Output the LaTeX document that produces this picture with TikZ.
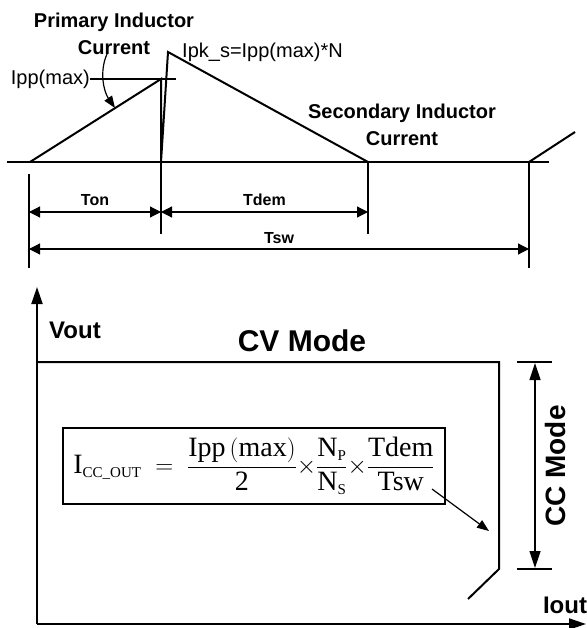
\documentclass[tikz,border=0pt]{standalone}
\usepackage{amsmath}
\usepackage{fontspec}
\setmainfont{Liberation Sans}
\newfontfamily\formulafont{Liberation Serif}
\usepackage{tikz}
\usetikzlibrary{positioning, arrows.meta, calc}

\newcommand{\smallsub}[1]{\text{\fontsize{15}{16}\selectfont #1}}

\begin{document}
\begin{tikzpicture}[x=1pt, y=-1pt, inner sep=0pt,
  wave/.style={line width=2pt},
  thinline/.style={line width=1.2pt},
  dimarrow/.style={line width=1.2pt, {Triangle[length=11pt,width=11pt]}-{Triangle[length=11pt,width=11pt]}},
  axisarrow/.style={line width=2pt, -{Triangle[length=17pt,width=11pt]}},
  lbl/.style={font=\fontsize{20}{27}\selectfont},
  boldlbl/.style={font=\fontsize{20}{27}\selectfont\bfseries, align=center},
  dimlbl/.style={font=\fontsize{16}{18}\selectfont\bfseries}]
\useasboundingbox (0,0) rectangle (586,628);

% switching waveform
\coordinate (basel) at (7,162);
\coordinate (baser) at (549,162);
\coordinate (ton0) at (30,162);
\coordinate (ppk) at (161,79);
\coordinate (ton1) at (161,162);
\coordinate (spk) at (168,52);
\coordinate (tdem1) at (368,162);
\coordinate (tsw1) at (529,162);
\coordinate (next) at (575,132);
\draw[wave] (basel) -- (baser);
\draw[wave] (ton0) -- (ppk) -- (ton1) -- (spk) -- (tdem1);
\draw[wave] (tsw1) -- (next);

\node[lbl, anchor=east] (ippmax) at (90,79) {Ipp(max)};
\coordinate (ippend) at (176,79);
\draw[thinline] (ippmax.east) -- (ippend);
\node[lbl, anchor=west] (ipks) at (182,52) {Ipk\_s=Ipp(max)*N};

\node[boldlbl] (primary) at (114,34) {Primary Inductor\\Current};
\coordinate (primhit) at (115,108);
\draw[thinline, -{Triangle[length=12pt,width=9pt]}] (107,54) .. controls (99,72) and (104,92) .. (primhit);
\node[boldlbl] (secondary) at (402,125) {Secondary Inductor\\Current};

% timing marks
\coordinate (m0a) at (29,174);  \coordinate (m0b) at (29,268);
\coordinate (m1b) at (161,234);
\coordinate (m2b) at (368,234);
\coordinate (m3b) at (529,268);
\draw[thinline] (m0a) -- (m0b);
\draw[thinline] (ton1) -- (m1b);
\draw[thinline] (tdem1) -- (m2b);
\draw[thinline] (tsw1) -- (m3b);
\draw[dimarrow] (29,212) -- node[dimlbl, above=6pt]{Ton} (161,212);
\draw[dimarrow] (161,212) -- node[dimlbl, above=6pt]{Tdem} (368,212);
\draw[dimarrow] (29,249) -- node[dimlbl, above=5pt]{Tsw} (529,249);

% output characteristic
\coordinate (origin) at (37,624);
\coordinate (ytop) at (37,287);
\coordinate (xend) at (586,624);
\draw[axisarrow] (origin) -- (ytop);
\draw[axisarrow] (origin) -- (xend);
\node[font=\fontsize{24}{28}\selectfont\bfseries] (vout) at (75,330) {Vout};
\node[font=\fontsize{24}{28}\selectfont\bfseries] (iout) at (565,605) {Iout};

\coordinate (cvl) at (37,362);
\coordinate (cvr) at (499,362);
\coordinate (ccb) at (499,569);
\coordinate (knee) at (468,599);
\draw[wave] (cvl) -- (cvr) -- (ccb) -- (knee);
\node[font=\fontsize{30}{34}\selectfont\bfseries] (cv) at (302,341) {CV Mode};

\draw[thinline] (517,362) -- (552,362);
\draw[thinline] (517,569) -- (552,569);
\draw[line width=1.2pt, {Triangle[length=17pt,width=11pt]}-{Triangle[length=17pt,width=11pt]}] (535,363) -- (535,568);
\node[font=\fontsize{28}{32}\selectfont\bfseries, rotate=90] (cc) at (555,466) {CC Mode};

\node[draw, line width=1.2pt, minimum width=382pt, minimum height=76pt, font=\formulafont\fontsize{28}{32}\selectfont] (formula) at (254,466)
  {$\text{I}_{\smallsub{CC\_OUT}} \;=\; \dfrac{\text{Ipp}\left(\text{max}\right)}{\text{2}}\mathord{\times}\dfrac{\text{N}_{\smallsub{P}}}{\text{N}_{\smallsub{S}}}\mathord{\times}\dfrac{\text{Tdem}}{\text{Tsw}}$};
\coordinate (fstart) at (432,489);
\coordinate (fhit) at (489,531);
\draw[thinline, -{Triangle[length=12pt,width=9pt]}] (fstart) -- (fhit);
\end{tikzpicture}
\end{document}
